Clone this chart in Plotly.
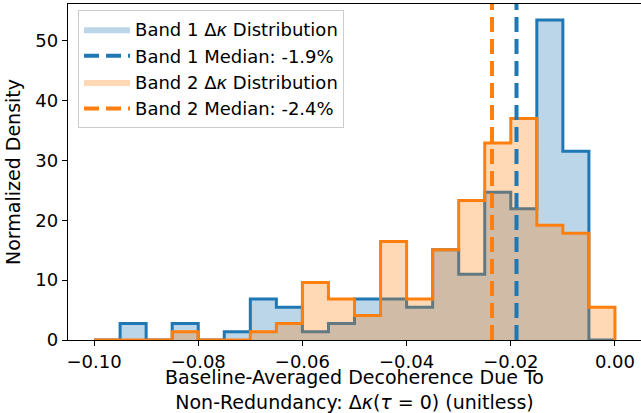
import plotly.graph_objects as go

# bin edges of the shared histogram (20 bins, width 0.005)
bin_edges = [-0.100, -0.095, -0.090, -0.085, -0.080, -0.075, -0.070, -0.065,
             -0.060, -0.055, -0.050, -0.045, -0.040, -0.035, -0.030, -0.025,
             -0.020, -0.015, -0.010, -0.005, 0.000]

# normalized density per bin
band1_density = [0, 2.74, 0, 2.74, 0, 1.37, 6.85, 5.48, 1.37, 2.74,
                 6.85, 6.85, 5.48, 15.07, 10.96, 24.66, 21.92, 53.42, 31.51, 0]
band2_density = [0, 0, 0, 1.37, 0, 0, 1.37, 2.74, 9.59, 6.85,
                 4.11, 16.44, 6.85, 15.07, 23.29, 32.88, 36.99, 19.18, 17.81, 5.48]

band1_median = -0.0189
band2_median = -0.0236

x_tickvals = [-0.10, -0.08, -0.06, -0.04, -0.02, 0.00]
x_ticktext = ["\u22120.10", "\u22120.08", "\u22120.06", "\u22120.04", "\u22120.02", "0.00"]
y_tickvals = [0, 10, 20, 30, 40, 50]

BLUE = "#1f77b4"
ORANGE = "#ff7f0e"
FONT = "DejaVu Sans"
FS = 18


def _step(vals):
    # outline like matplotlib's step histogram: up from zero, across, back to zero
    xs = [bin_edges[0]] + bin_edges + [bin_edges[-1]]
    ys = [0] + list(vals) + [vals[-1], 0]
    return xs, ys


fig = go.Figure()

for vals, col, fill, name, rank in [
    (band1_density, BLUE, "rgba(31,119,180,0.3)", "Band 1 \u0394<i>\u03ba</i> Distribution", 1),
    (band2_density, ORANGE, "rgba(255,127,14,0.3)", "Band 2 \u0394<i>\u03ba</i> Distribution", 3),
]:
    xs, ys = _step(vals)
    fig.add_trace(go.Scatter(
        x=xs, y=ys, mode="lines", line_shape="hv",
        line=dict(width=0, color=fill),
        fill="tozeroy", fillcolor=fill,
        name=name, legendrank=rank, hoverinfo="skip",
    ))
    fig.add_trace(go.Scatter(
        x=xs, y=ys, mode="lines", line_shape="hv",
        line=dict(width=3, color=col),
        showlegend=False, hoverinfo="skip",
    ))

for med, col, name, rank in [
    (band1_median, BLUE, f"Band 1 Median: {band1_median*100:.1f}%", 2),
    (band2_median, ORANGE, f"Band 2 Median: {band2_median*100:.1f}%", 4),
]:
    fig.add_shape(
        type="line", xref="x", yref="y domain",
        x0=med, x1=med, y0=0, y1=1,
        line=dict(color=col, width=4, dash="15px,7px"),
        showlegend=True, name=name, legendrank=rank,
    )

fig.update_layout(
    width=641, height=413,
    plot_bgcolor="white", paper_bgcolor="white",
    font=dict(family=FONT, size=FS, color="black"),
    margin=dict(l=68, r=0, t=4, b=73),
    legend=dict(
        x=0.0175, y=0.982, xanchor="left", yanchor="top",
        bgcolor="rgba(255,255,255,0.8)", bordercolor="#cccccc", borderwidth=1,
        font=dict(family=FONT, size=FS), tracegroupgap=0, itemwidth=46,
    ),
)
fig.update_xaxes(
    range=[-0.105, 0.005], automargin=False,
    tickvals=x_tickvals, ticktext=x_ticktext,
    tickfont=dict(family=FONT, size=FS),
    ticks="outside", ticklen=5, tickcolor="black",
    showline=True, linecolor="black", linewidth=1.3, mirror=True,
    showgrid=False, zeroline=False,
    title=dict(text="Baseline-Averaged Decoherence Due To<br>Non-Redundancy: \u0394<i>\u03ba</i>(<i>\u03c4</i> = 0) (unitless)",
               font=dict(family=FONT, size=19), standoff=7),
)
fig.update_yaxes(
    range=[0, 56.1], automargin=False,
    tickvals=y_tickvals,
    tickfont=dict(family=FONT, size=FS),
    ticks="outside", ticklen=5, tickcolor="black",
    showline=True, linecolor="black", linewidth=1.3, mirror=True,
    showgrid=False, zeroline=False,
    title=dict(text="Normalized Density", font=dict(family=FONT, size=19), standoff=9),
)

# page body has a default margin that would push the fixed-size figure off the window
fig.write_html("out.html", config={"displayModeBar": False},
               post_script="document.body.style.margin='0px';")
